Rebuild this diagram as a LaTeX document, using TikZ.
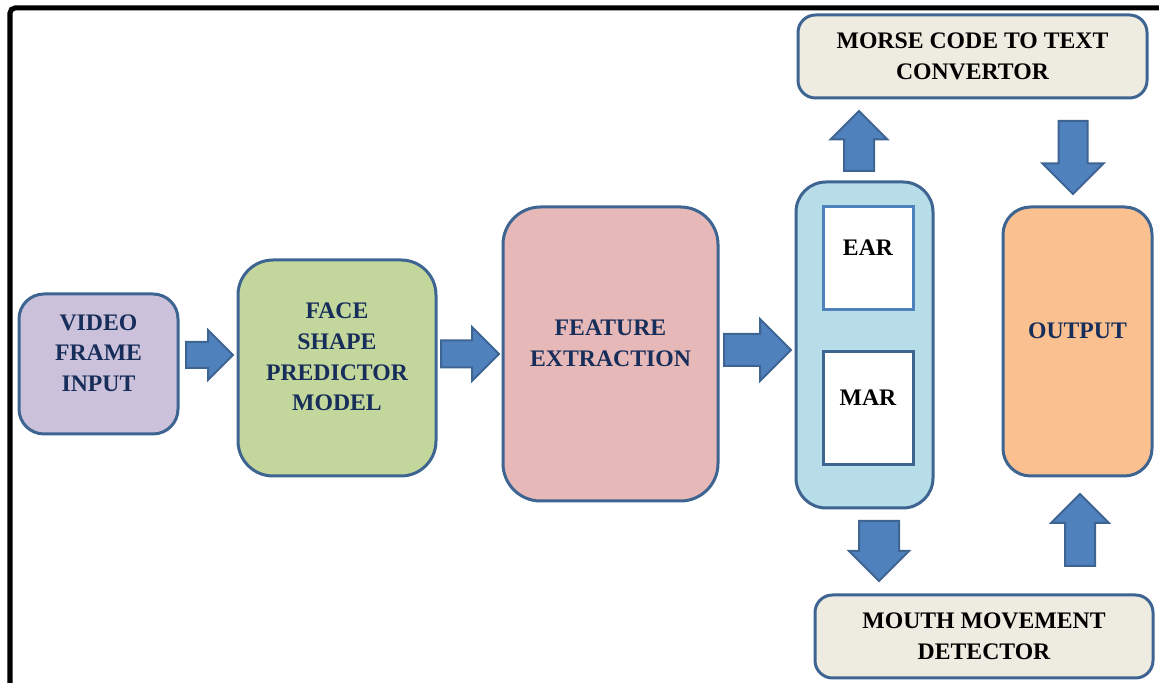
\documentclass[tikz,border=0pt]{standalone}
\usepackage{fontspec}
\setmainfont{Liberation Serif}
\usetikzlibrary{shapes.arrows}
\usetikzlibrary{positioning}

\definecolor{edgeblue}{RGB}{62,100,146}
\definecolor{arrowblue}{RGB}{79,129,189}
\definecolor{earblue}{RGB}{79,129,189}
\definecolor{textnavy}{RGB}{23,45,90}
\definecolor{vidfill}{RGB}{204,193,218}
\definecolor{facefill}{RGB}{195,214,155}
\definecolor{featfill}{RGB}{230,185,184}
\definecolor{ratiofill}{RGB}{183,222,232}
\definecolor{outfill}{RGB}{250,192,144}
\definecolor{notefill}{RGB}{238,236,225}

\begin{document}
\begin{tikzpicture}[
  box/.style={draw=edgeblue, line width=0.06cm, rounded corners=#1, align=center, inner sep=0pt,
    font=\bfseries\fontsize{13.5}{17.5}\selectfont, text=textnavy},
  box/.default=0.5cm,
  ratiobox/.style={draw=#1, line width=0.06cm, fill=white, minimum width=1.8cm, inner sep=0pt,
    font=\bfseries\fontsize{13.5}{17.5}\selectfont, text=black},
  lifted/.style={text depth=0.44cm},
  fat/.style={single arrow, draw=edgeblue, fill=arrowblue, line width=0.04cm, inner sep=0pt,
    single arrow head indent=0pt, text depth=0pt, text height=#1, anchor=tail},
  fat/.default=0.5cm
]
\useasboundingbox (0,0) rectangle (23.18,13.66);
\draw[line width=0.1cm, rounded corners=0.1cm] (0.2,-0.5) -- (0.2,13.5) -- (23.8,13.5);

\node[box=0.5cm, fill=vidfill, minimum width=3.18cm, minimum height=2.8cm, lifted] (vid) at (1.97,6.38) {VIDEO\\FRAME\\INPUT};
\node[box=0.7cm, fill=facefill, minimum width=3.96cm, minimum height=4.32cm, lifted] (face) at (6.74,6.30) {FACE\\SHAPE\\PREDICTOR\\MODEL};
\node[box=0.75cm, fill=featfill, minimum width=4.3cm, minimum height=5.88cm, lifted] (feat) at (12.21,6.58) {FEATURE\\EXTRACTION};
\node[box=0.6cm, fill=ratiofill, minimum width=2.74cm, minimum height=6.52cm] (ratio) at (17.29,6.76) {};
\node[ratiobox=earblue, minimum height=2.06cm, lifted] (ear) at (17.36,8.49) {EAR};
\node[ratiobox=edgeblue, minimum height=2.26cm, lifted] (mar) at (17.36,5.49) {MAR};
\node[box=0.35cm, fill=notefill, minimum width=6.98cm, minimum height=1.66cm, text=black] (morse) at (19.45,12.53) {MORSE CODE TO TEXT\\CONVERTOR};
\node[box=0.55cm, fill=outfill, minimum width=2.98cm, minimum height=5.38cm, lifted] (out) at (21.55,6.83) {OUTPUT};
\node[box=0.35cm, fill=notefill, minimum width=6.76cm, minimum height=1.66cm, text=black] (mouth) at (19.68,0.93) {MOUTH MOVEMENT\\DETECTOR};

\node[fat=0.48cm, minimum height=0.94cm, single arrow head extend=0.24cm] (a1) at (3.7,6.56) {};
\node[fat=0.5cm, minimum height=1.16cm, single arrow head extend=0.27cm] (a2) at (8.8,6.58) {};
\node[fat=0.6cm, minimum height=1.34cm, single arrow head extend=0.3cm] (a3) at (14.46,6.66) {};
\node[fat=0.56cm, rotate=90, minimum height=1.2cm, single arrow head extend=0.27cm] (u1) at (17.18,10.22) {};
\node[fat=0.54cm, rotate=-90, minimum height=1.46cm, single arrow head extend=0.32cm] (d1) at (21.46,11.26) {};
\node[fat=0.76cm, rotate=-90, minimum height=1.2cm, single arrow head extend=0.2cm] (d2) at (17.58,3.26) {};
\node[fat=0.56cm, rotate=90, minimum height=1.44cm, single arrow head extend=0.28cm] (u2) at (21.6,2.32) {};

\end{tikzpicture}
\end{document}
